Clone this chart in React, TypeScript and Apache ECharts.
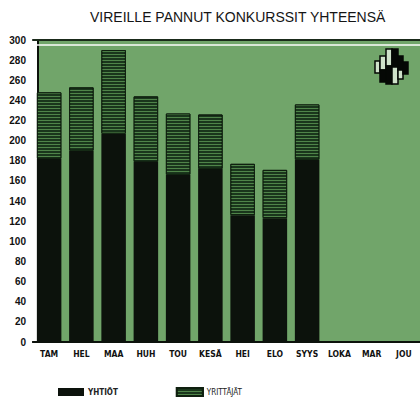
import React, { useEffect, useRef } from "react";
import * as echarts from "echarts";

const title = "VIREILLE PANNUT KONKURSSIT YHTEENSÄ";
const months = ["TAM", "HEL", "MAA", "HUH", "TOU", "KESÄ", "HEI", "ELO", "SYYS", "LOKA", "MAR", "JOU"];
const yhtiot = [182, 190, 207, 179, 166, 172, 126, 123, 181, null, null, null];
const yrittajat = [66, 63, 83, 65, 61, 54, 51, 48, 55, null, null, null];
const seriesNames = ["YHTIÖT", "YRITTÄJÄT"];

const GREEN = "#71a56a";
const INK = "#0c120c";
const NARROW = "'DejaVu Sans Condensed', 'Liberation Sans', sans-serif";

export default function App() {
  const ref = useRef<HTMLDivElement>(null);
  useEffect(() => {
    if (!ref.current) return;
    const chart = echarts.init(ref.current, null, { renderer: "svg" });
    const logoRects = [
      // [x, y, w, h, filled]
      [375, 61, 5, 12, 0],
      [380, 56, 6, 14, 0],
      [380, 70, 6, 12, 1],
      [386, 49, 6, 17, 0],
      [386, 66, 6, 18, 1],
      [392, 49, 6, 18, 1],
      [392, 67, 6, 17, 0],
      [398, 56, 5, 14, 1],
      [398, 70, 5, 9, 0],
      [403, 62, 5, 12, 1],
    ];
    chart.setOption({
      animation: false,
      title: {
        text: title,
        left: 85,
        top: 5,
        textStyle: { fontFamily: "Liberation Sans", fontSize: 14, fontWeight: "normal", color: "#151515" },
      },
      grid: {
        left: 33,
        right: -4,
        top: 40,
        bottom: 62,
        show: true,
        backgroundColor: GREEN,
        borderWidth: 0,
      },
      legend: {
        left: 53,
        top: 382,
        itemWidth: 26,
        itemHeight: 8,
        itemGap: 58,
        icon: "rect",
        data: [
          { name: seriesNames[0], textStyle: { fontWeight: "bold" } },
          { name: seriesNames[1], textStyle: { fontWeight: "normal" } },
        ],
        textStyle: { fontFamily: NARROW, fontSize: 8, color: "#222", padding: [0, 0, 0, -1] },
      },
      xAxis: {
        type: "category",
        data: months,
        axisLine: { lineStyle: { color: INK, width: 2 } },
        axisTick: { alignWithLabel: true, length: 5, lineStyle: { color: INK, width: 1.5 } },
        axisLabel: {
          fontFamily: NARROW,
          fontWeight: "bold",
          fontSize: 8.5,
          color: "#111",
          margin: 7,
          interval: 0,
        },
      },
      yAxis: {
        type: "value",
        min: 0,
        max: 300,
        interval: 20,
        offset: -5,
        splitLine: { show: false },
        axisLine: { show: true, lineStyle: { color: INK, width: 2 } },
        axisTick: { show: true, length: 6, lineStyle: { color: INK, width: 1.5 } },
        axisLabel: {
          fontFamily: "Liberation Sans",
          fontWeight: "bold",
          fontSize: 10,
          color: "#111",
          margin: 12,
        },
      },
      graphic: [
        { type: "rect", shape: { x: 30, y: 41, width: 7, height: 300 }, style: { fill: "#ffffff" }, z: 1 },
        ...logoRects.map((r) => ({
          type: "rect",
          shape: { x: r[0], y: r[1], width: r[2], height: r[3] },
          style: { fill: r[4] ? "#050805" : "#cfe2ca", stroke: "#050805", lineWidth: 1.5 },
          z: 10,
        })),
      ],
      series: [
        {
          name: seriesNames[0],
          type: "bar",
          stack: "total",
          data: yhtiot,
          barCategoryGap: "24%",
          itemStyle: { color: INK },
          markLine: {
            silent: true,
            symbol: "none",
            label: { show: false },
            data: [
              { yAxis: 300, lineStyle: { color: "#1a2a1a", width: 2, type: "solid" } },
              { yAxis: 295, lineStyle: { color: "#ffffff", width: 1.5, type: "solid" } },
            ],
          },
        },
        {
          name: seriesNames[1],
          type: "bar",
          stack: "total",
          data: yrittajat,
          itemStyle: {
            color: "#1a361c",
            borderColor: "#0f1f0f",
            borderWidth: 1,
            decal: {
              symbol: "rect",
              symbolSize: 1,
              dashArrayX: [1, 0],
              dashArrayY: [1, 2],
              rotation: 0,
              color: "#4f8449",
            },
          },
        },
      ],
    });
    return () => chart.dispose();
  }, []);
  return (
    <div
      ref={ref}
      style={{ position: "fixed", left: 0, top: 0, width: 420, height: 404, background: "#ffffff" }}
    />
  );
}
